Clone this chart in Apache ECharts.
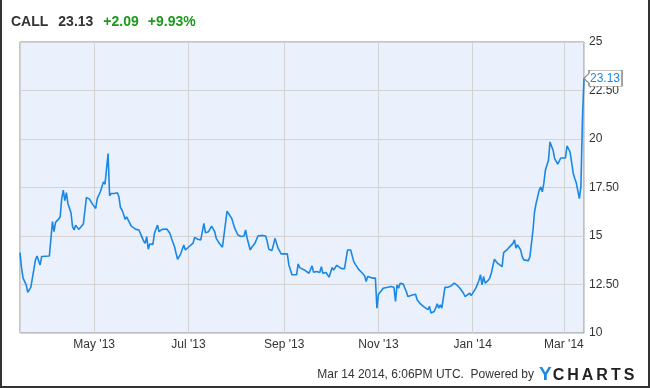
<!DOCTYPE html>
<html>
<head>
<meta charset="utf-8">
<script src="https://cdn.jsdelivr.net/npm/echarts@6/dist/echarts.min.js"></script>
<style>
  html, body { margin: 0; padding: 0; background: #fff; }
  #wrap { position: relative; width: 650px; height: 388px; overflow: hidden; }
  #frame { position: absolute; left: 0; top: 0; width: 650px; height: 388px; box-sizing: border-box;
           border-left: 2px solid #333; border-right: 2px solid #333; border-bottom: 2px solid #333; pointer-events: none; z-index: 5; }
  #chart { position: absolute; left: 0; top: 0; width: 650px; height: 388px; }
  #foot { position: absolute; right: 116px; top: 367px; font: 12px "Liberation Sans", Arial, sans-serif; color: #333; white-space: pre; z-index: 6; }
  #logo { position: absolute; left: 539px; top: 365px; font-family: "Liberation Sans", Arial, sans-serif; font-weight: bold; white-space: pre; z-index: 6; line-height: 18px; }
  #logo .y { color: #1a87e6; font-size: 19px; }
  #logo .c { color: #222; font-size: 16px; letter-spacing: 3px; margin-left: 1px; }
</style>
</head>
<body>
<div id="wrap">
  <div id="chart"></div>
  <div id="frame"></div>
  <div id="foot">Mar 14 2014, 6:06PM UTC.  Powered by</div>
  <div id="logo"><span class="y">Y</span><span class="c">CHARTS</span></div>
</div>
<script>
const ticker = 'CALL';
const lastPrice = '23.13';
const change = '+2.09';
const changePct = '+9.93%';
const xMin = '2013-03-14';
const xMax = '2014-03-14';
const yTicks = [10, 12.5, 15, 17.5, 20, 22.5, 25];
const monthNames = ['Jan','Feb','Mar','Apr','May','Jun','Jul','Aug','Sep','Oct','Nov','Dec'];

const dates = [
'2013-03-14','2013-03-15','2013-03-16','2013-03-18','2013-03-19','2013-03-20','2013-03-21','2013-03-23','2013-03-24','2013-03-25',
'2013-03-26','2013-03-27','2013-03-28','2013-03-29','2013-04-02','2013-04-04','2013-04-05','2013-04-06','2013-04-08','2013-04-09',
'2013-04-10','2013-04-11','2013-04-12','2013-04-13','2013-04-14','2013-04-16','2013-04-17','2013-04-18','2013-04-19','2013-04-21',
'2013-04-22','2013-04-24','2013-04-25','2013-04-26','2013-04-28','2013-04-30','2013-05-02','2013-05-03','2013-05-05','2013-05-07',
'2013-05-08','2013-05-10','2013-05-11','2013-05-12','2013-05-13','2013-05-14','2013-05-16','2013-05-17','2013-05-18','2013-05-19',
'2013-05-20','2013-05-21','2013-05-22','2013-05-23','2013-05-25','2013-05-26','2013-05-28','2013-05-30','2013-06-01','2013-06-02',
'2013-06-03','2013-06-04','2013-06-05','2013-06-06','2013-06-08','2013-06-09','2013-06-11','2013-06-12','2013-06-14','2013-06-15',
'2013-06-17','2013-06-19','2013-06-20','2013-06-22','2013-06-23','2013-06-24','2013-06-26','2013-06-28','2013-06-29','2013-06-30',
'2013-07-01','2013-07-02','2013-07-04','2013-07-05','2013-07-07','2013-07-09','2013-07-10','2013-07-11','2013-07-12','2013-07-14',
'2013-07-15','2013-07-16','2013-07-18','2013-07-19','2013-07-21','2013-07-23','2013-07-24','2013-07-26','2013-07-28','2013-07-29',
'2013-07-31','2013-08-01','2013-08-02','2013-08-04','2013-08-06','2013-08-07','2013-08-08','2013-08-10','2013-08-11','2013-08-13',
'2013-08-15','2013-08-18','2013-08-20','2013-08-21','2013-08-22','2013-08-24','2013-08-25','2013-08-26','2013-08-28','2013-08-29',
'2013-08-30','2013-09-03','2013-09-04','2013-09-06','2013-09-09','2013-09-10','2013-09-11','2013-09-14','2013-09-17','2013-09-19',
'2013-09-20','2013-09-22','2013-09-24','2013-09-25','2013-09-26','2013-09-28','2013-09-30','2013-10-02','2013-10-03','2013-10-04',
'2013-10-05','2013-10-06','2013-10-08','2013-10-09','2013-10-10','2013-10-12','2013-10-14','2013-10-16','2013-10-17','2013-10-18',
'2013-10-19','2013-10-21','2013-10-23','2013-10-24','2013-10-25','2013-10-26','2013-10-28','2013-10-30','2013-10-31','2013-11-01',
'2013-11-03','2013-11-04','2013-11-05','2013-11-07','2013-11-08','2013-11-09','2013-11-11','2013-11-12','2013-11-13','2013-11-14',
'2013-11-15','2013-11-17','2013-11-19','2013-11-20','2013-11-21','2013-11-23','2013-11-25','2013-11-26','2013-11-27','2013-11-28',
'2013-11-30','2013-12-01','2013-12-03','2013-12-04','2013-12-05','2013-12-07','2013-12-08','2013-12-09','2013-12-10','2013-12-11',
'2013-12-12','2013-12-14','2013-12-15','2013-12-16','2013-12-18','2013-12-19','2013-12-20','2013-12-22','2013-12-24','2013-12-26',
'2013-12-27','2013-12-28','2013-12-30','2013-12-31','2014-01-01','2014-01-03','2014-01-05','2014-01-06','2014-01-07','2014-01-08',
'2014-01-09','2014-01-11','2014-01-12','2014-01-13','2014-01-15','2014-01-16','2014-01-17','2014-01-18','2014-01-20','2014-01-21',
'2014-01-23','2014-01-24','2014-01-25','2014-01-27','2014-01-28','2014-01-29','2014-01-30','2014-02-01','2014-02-02','2014-02-03',
'2014-02-04','2014-02-06','2014-02-07','2014-02-09','2014-02-10','2014-02-11','2014-02-13','2014-02-14','2014-02-15','2014-02-16',
'2014-02-17','2014-02-19','2014-02-20','2014-02-22','2014-02-23','2014-02-25','2014-02-27','2014-02-28','2014-03-02','2014-03-03',
'2014-03-05','2014-03-06','2014-03-07','2014-03-08','2014-03-09','2014-03-11','2014-03-12','2014-03-13','2014-03-14'
];

const prices = [
14.14,13.34,12.83,12.48,12.10,12.17,12.35,13.29,13.77,13.97,
14.06,13.50,13.94,13.97,13.97,15.74,15.22,15.70,15.87,15.99,
16.93,17.36,16.82,17.23,16.68,16.20,15.48,15.31,15.56,15.34,
15.26,15.62,15.65,16.99,16.90,16.63,16.42,16.93,17.28,17.79,
17.67,19.25,17.07,17.19,17.23,17.19,17.23,17.02,16.47,16.34,
16.13,15.86,15.99,15.96,15.51,15.45,15.34,15.31,14.93,14.74,
14.62,14.97,14.32,14.59,14.57,15.14,15.56,15.22,15.34,15.26,
15.36,15.14,14.88,14.45,14.11,13.80,14.08,14.54,14.28,14.37,
14.42,14.32,14.63,14.93,14.83,14.80,14.88,15.65,15.17,15.22,
15.27,15.51,15.22,14.88,14.62,14.42,14.49,16.28,16.03,15.91,
15.39,15.48,15.05,14.97,15.00,15.31,14.88,14.28,14.42,14.62,
15.00,15.03,15.00,14.71,14.32,14.25,14.54,14.88,14.37,14.28,
14.08,14.08,13.51,13.00,13.00,13.56,13.37,13.25,13.08,13.46,
13.13,13.17,13.12,13.42,13.08,13.12,12.88,13.37,13.25,13.29,
13.49,13.39,13.32,13.39,13.32,14.28,14.28,13.68,13.54,13.42,
13.29,13.13,12.95,12.65,12.91,12.88,12.83,12.83,11.28,12.00,
12.19,12.31,12.26,12.36,12.31,12.40,12.36,11.63,12.48,12.31,
12.57,12.52,12.14,11.88,11.93,11.96,12.00,11.71,11.76,11.51,
11.37,11.28,11.20,11.37,11.03,11.11,11.28,11.51,11.28,11.45,
11.28,12.35,12.40,12.36,12.43,12.40,12.57,12.45,12.28,12.05,
11.88,11.96,12.05,11.93,11.92,12.31,12.71,13.00,12.48,12.91,
12.57,12.71,12.83,13.08,13.80,13.85,13.60,13.54,13.42,14.14,
14.28,14.25,14.45,14.62,14.80,14.37,14.54,14.28,13.94,13.77,
13.85,13.73,13.94,15.31,16.25,16.68,17.36,17.53,17.28,17.71,
18.39,18.90,19.85,19.42,18.99,18.70,19.02,18.99,19.02,19.64,
19.33,19.25,18.25,17.96,17.74,16.93,17.55,21.04,23.13
];

const lineColor = '#1a87e6';
const chart = echarts.init(document.getElementById('chart'), null, { renderer: 'canvas' });
const seriesData = dates.map((d, i) => [d, prices[i]]);

chart.setOption({
  animation: false,
  textStyle: { fontFamily: '"Liberation Sans", Arial, sans-serif' },
  title: {
    left: 6, top: 10,
    text: '{a|' + ticker + '}{b|' + lastPrice + '}{c|' + change + '}{c|' + changePct + '}',
    textStyle: {
      rich: {
        a: { fontSize: 14, fontWeight: 'bold', color: '#333', padding: [0, 10, 0, 0] },
        b: { fontSize: 14, fontWeight: 'bold', color: '#333', padding: [0, 10, 0, 0] },
        c: { fontSize: 14, fontWeight: 'bold', color: '#1a9a1a', padding: [0, 9, 0, 0] }
      }
    }
  },
  grid: {
    left: 20, right: 66, top: 42, bottom: 55,
    show: true, backgroundColor: '#eaf1fc', borderColor: '#8c8c8c', borderWidth: 1
  },
  xAxis: {
    type: 'time',
    min: xMin, max: xMax,
    splitNumber: 6,
    axisLine: { show: false },
    axisTick: { show: false },
    splitLine: { show: true, lineStyle: { color: '#d3d3d3', width: 1 } },
    axisLabel: {
      color: '#333', fontSize: 12, margin: 6, hideOverlap: false,
      formatter: function (v) {
        const d = new Date(v);
        return monthNames[d.getMonth()] + " '" + String(d.getFullYear()).slice(2);
      }
    }
  },
  yAxis: {
    type: 'value',
    position: 'right',
    min: yTicks[0], max: yTicks[yTicks.length - 1], interval: 2.5,
    axisLine: { show: false },
    axisTick: { show: false },
    splitLine: { show: true, lineStyle: { color: '#d3d3d3', width: 1 } },
    axisLabel: {
      color: '#333', fontSize: 12, margin: 5,
      formatter: function (v) { return (v % 1 === 0) ? String(v) : v.toFixed(2); }
    }
  },
  series: [{
    type: 'line',
    data: seriesData,
    showSymbol: false,
    lineStyle: { color: lineColor, width: 1.6 },
    clip: false,
    markPoint: {
      silent: true,
      symbol: 'path://M0,8 L5,3 L5,0 L38,0 L38,16 L5,16 L5,13 Z',
      symbolSize: [38, 16],
      symbolOffset: [19, 0],
      itemStyle: { color: '#fff', borderColor: '#888', borderWidth: 1 },
      label: { show: true, position: 'inside', offset: [2, 0], color: lineColor, fontSize: 12,
               formatter: function (p) { return p.value; } },
      data: [{ coord: [dates[dates.length - 1], prices[prices.length - 1]], value: lastPrice }]
    }
  }]
});
</script>
</body>
</html>
